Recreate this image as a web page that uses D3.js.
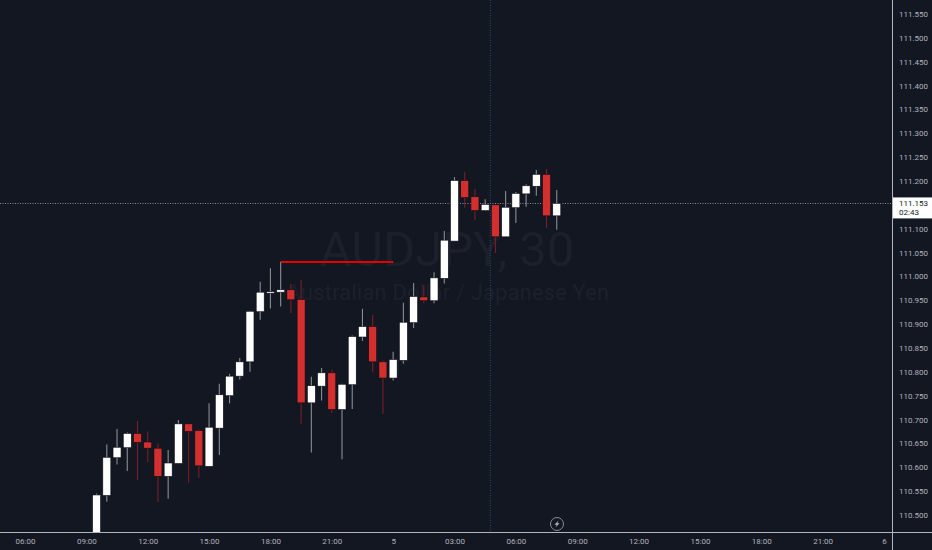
<!DOCTYPE html>
<html>
<head>
<meta charset="utf-8">
<style>
  html, body { margin: 0; padding: 0; background: #131722; overflow: hidden; }
  text { font-family: Roboto, "Liberation Sans", sans-serif; }
</style>
</head>
<body>
<script src="https://d3js.org/d3.v7.min.js"></script>
<script>
// one value per 30 minute candle, first one is 09:30
var opens = [110.448, 110.541, 110.620, 110.641, 110.671, 110.653, 110.640, 110.581, 110.608, 110.691, 110.677, 110.602,
  110.682, 110.750, 110.791, 110.821, 110.926, 110.965, 110.967, 110.972, 110.952, 110.735, 110.770, 110.798,
  110.721, 110.773, 110.873, 110.895, 110.821, 110.787, 110.824, 110.903, 110.957, 110.949, 110.996, 111.074,
  111.201, 111.167, 111.138, 111.150, 111.083, 111.144, 111.173, 111.189, 111.214, 111.127];
var highs = [110.545, 110.648, 110.680, 110.673, 110.697, 110.675, 110.650, 110.636, 110.699, 110.692, 110.679, 110.734,
  110.775, 110.796, 110.829, 110.928, 110.989, 111.017, 111.031, 110.984, 110.993, 110.790, 110.808, 110.804,
  110.775, 110.876, 110.932, 110.919, 110.824, 110.842, 110.945, 110.986, 110.982, 111.009, 111.095, 111.208,
  111.219, 111.183, 111.162, 111.150, 111.179, 111.177, 111.193, 111.223, 111.225, 111.181];
var lows = [110.437, 110.528, 110.606, 110.592, 110.573, 110.611, 110.527, 110.534, 110.608, 110.568, 110.578, 110.602,
  110.626, 110.734, 110.784, 110.800, 110.909, 110.933, 110.937, 110.923, 110.691, 110.631, 110.740, 110.714,
  110.617, 110.722, 110.865, 110.799, 110.712, 110.782, 110.817, 110.892, 110.944, 110.944, 110.985, 111.074,
  111.144, 111.118, 111.138, 111.049, 111.083, 111.112, 111.146, 111.169, 111.102, 111.098];
var closes = [110.542, 110.621, 110.642, 110.671, 110.652, 110.640, 110.581, 110.609, 110.691, 110.675, 110.603, 110.684,
  110.752, 110.791, 110.821, 110.927, 110.967, 110.968, 110.972, 110.951, 110.735, 110.771, 110.798, 110.721,
  110.774, 110.874, 110.895, 110.821, 110.787, 110.826, 110.904, 110.958, 110.949, 110.997, 111.076, 111.201,
  111.165, 111.138, 111.151, 111.083, 111.145, 111.174, 111.190, 111.214, 111.127, 111.153];

// 111.150 sits under the last price tag, so it is not listed
var priceTicks = [110.5, 110.55, 110.6, 110.65, 110.7, 110.75, 110.8, 110.85, 110.9, 110.95, 111, 111.05,
  111.1, 111.2, 111.25, 111.3, 111.35, 111.4, 111.45, 111.5, 111.55];
var timeTickHours = [6, 9, 12, 15, 18, 21, 24, 27, 30, 33, 36, 39, 42, 45, 48];
var timeTickLabels = ["06:00", "09:00", "12:00", "15:00", "18:00", "21:00", "5", "03:00", "06:00", "09:00", "12:00",
  "15:00", "18:00", "21:00", "6"];

var lastPrice = 111.153, countdown = "02:43";
var levelPrice = 111.031, levelFromBar = 18, levelToBar = 29;
var crosshairHour = 28.75;

var width = 932, height = 550, paneW = 892, paneH = 532;
var day0 = Date.UTC(2021, 0, 4);
function hourDate(h) { return new Date(day0 + h * 3600000); }

var barTimes = d3.utcMinutes(hourDate(9.5), hourDate(32.5), 30);

var x = d3.scaleUtc().domain([hourDate(6), hourDate(48)]).range([25, 884]);
var y = d3.scaleLinear().domain([110.5, 111.55]).range([515, 14]);

var svg = d3.select("body").append("svg")
    .attr("width", width)
    .attr("height", height)
    .style("display", "block");

svg.append("rect").attr("width", width).attr("height", height).attr("fill", "#131722");
svg.append("clipPath").attr("id", "pane")
  .append("rect").attr("width", paneW).attr("height", paneH);

var pane = svg.append("g").attr("clip-path", "url(#pane)");

// watermark
pane.append("text")
    .attr("x", 447).attr("y", 266)
    .attr("text-anchor", "middle")
    .attr("font-size", 49)
    .attr("fill", "#1c202b")
    .text("AUDJPY, 30");
pane.append("text")
    .attr("x", 448).attr("y", 300)
    .attr("text-anchor", "middle")
    .attr("font-size", 21.5)
    .attr("letter-spacing", 0.35)
    .attr("fill", "#1c202b")
    .text("Australian Dollar / Japanese Yen");

// crosshair lines
pane.append("line")
    .attr("x1", 0).attr("x2", paneW)
    .attr("y1", Math.round(y(lastPrice)) + 0.5).attr("y2", Math.round(y(lastPrice)) + 0.5)
    .attr("stroke", "#8a8d96").attr("stroke-dasharray", "1,1.5");
pane.append("line")
    .attr("x1", x(hourDate(crosshairHour)) ).attr("x2", x(hourDate(crosshairHour)))
    .attr("y1", 0).attr("y2", paneH)
    .attr("stroke", "#2c4a78").attr("stroke-dasharray", "1,1.5");

var bars = barTimes.map(function(t, i) {
  return {t: t, o: opens[i], h: highs[i], l: lows[i], c: closes[i], up: closes[i] >= opens[i]};
});

var candle = pane.selectAll(".candle")
    .data(bars)
  .enter().append("g")
    .attr("class", "candle");

candle.append("line")
    .attr("x1", function(d) { return x(d.t); })
    .attr("x2", function(d) { return x(d.t); })
    .attr("y1", function(d) { return y(d.h); })
    .attr("y2", function(d) { return y(d.l); })
    .attr("stroke", function(d) { return d.up ? "#8b8d93" : "#7a1f26"; })
    .attr("stroke-width", 1.1);

candle.append("rect")
    .attr("x", function(d) { return x(d.t) - 4; })
    .attr("width", 8)
    .attr("y", function(d) { return y(Math.max(d.o, d.c)); })
    .attr("height", function(d) { return Math.max(1, Math.abs(y(d.o) - y(d.c))); })
    .attr("fill", function(d) { return d.up ? "#ffffff" : "#d32f2f"; })
    .attr("stroke", "#0b0d14")
    .attr("stroke-width", 0.6);

// drawn level
pane.append("line")
    .attr("x1", x(barTimes[levelFromBar])).attr("x2", x(barTimes[levelToBar]))
    .attr("y1", y(levelPrice)).attr("y2", y(levelPrice))
    .attr("stroke", "#e60000").attr("stroke-width", 2)
    .attr("shape-rendering", "crispEdges");

// lightning badge
var badge = svg.append("g").attr("transform", "translate(557,524)");
badge.append("circle").attr("r", 6.5).attr("fill", "#131722").attr("stroke", "#8a8d96").attr("stroke-width", 1);
badge.append("path").attr("d", "M1.5,-3.5 L-2.5,0.8 L-0.3,0.8 L-1.5,3.5 L2.5,-0.8 L0.3,-0.8 Z").attr("fill", "#b2b5be");

// axes
var xAxis = d3.axisBottom(x)
    .tickValues(timeTickHours.map(hourDate))
    .tickSize(0)
    .tickPadding(6)
    .tickFormat(function(d, i) { return timeTickLabels[i]; });

var gx = svg.append("g")
    .attr("transform", "translate(0," + paneH + ")")
    .call(xAxis);
gx.select(".domain").remove();
gx.selectAll("text").attr("fill", "#b2b5be").attr("font-size", 8).attr("font-family", "Roboto");

var yAxis = d3.axisRight(y)
    .tickValues(priceTicks)
    .tickSize(0)
    .tickPadding(7)
    .tickFormat(d3.format(".3f"));

var gy = svg.append("g")
    .attr("transform", "translate(" + paneW + ",0)")
    .call(yAxis);
gy.select(".domain").remove();
gy.selectAll("text").attr("fill", "#b2b5be").attr("font-size", 8).attr("font-family", "Roboto");

svg.append("line").attr("x1", 0).attr("x2", width).attr("y1", paneH + 0.5).attr("y2", paneH + 0.5)
    .attr("stroke", "#b2b5be");
svg.append("line").attr("x1", paneW + 0.5).attr("x2", paneW + 0.5).attr("y1", 0).attr("y2", height)
    .attr("stroke", "#b2b5be");

// last price label
var tag = svg.append("g").attr("transform", "translate(" + (paneW + 1) + "," + (y(lastPrice) - 6) + ")");
tag.append("rect").attr("width", width - paneW - 1).attr("height", 21).attr("fill", "#ffffff");
tag.append("text").attr("x", 6).attr("y", 8.5).attr("font-size", 8).attr("fill", "#131722").text(d3.format(".3f")(lastPrice));
tag.append("text").attr("x", 6).attr("y", 18).attr("font-size", 8).attr("fill", "#131722").text(countdown);
</script>
</body>
</html>
